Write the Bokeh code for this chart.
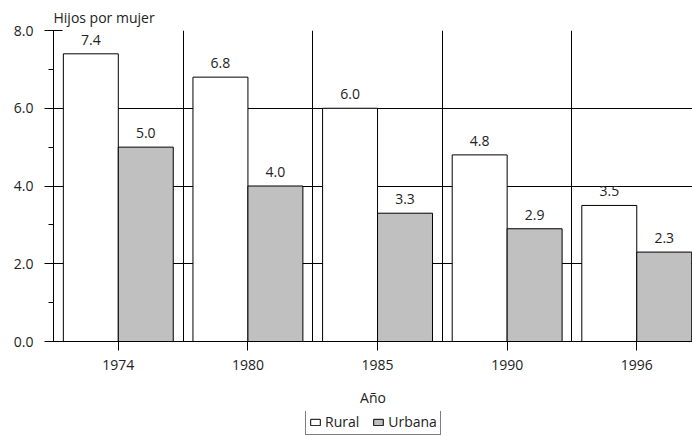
from bokeh.plotting import figure
from bokeh.layouts import column
from bokeh.models import (ColumnDataSource, Range1d, SingleIntervalTicker, FixedTicker,
                          Grid, Legend, LegendItem, NumeralTickFormatter)
from bokeh.core.properties import value
from bokeh.embed import file_html
from bokeh.resources import INLINE

years = ["1974", "1980", "1985", "1990", "1996"]
rural = [7.4, 6.8, 6.0, 4.8, 3.5]
urbana = [5.0, 4.0, 3.3, 2.9, 2.3]
rural_labels = ["7.4", "6.8", "6.0", "4.8", "3.5"]
urbana_labels = ["5.0", "4.0", "3.3", "2.9", "2.3"]
series_names = ["Rural", "Urbana"]

FONT = "Open Sans"
FS = "14px"
TXT = "#222222"
BW = 0.424
RURAL_FILL = "white"
URB_FILL = "#c0c0c0"

xs = list(range(len(years)))
src_r = ColumnDataSource(dict(x=[i - BW / 2 for i in xs], top=rural, lab=rural_labels))
src_u = ColumnDataSource(dict(x=[i + BW / 2 for i in xs], top=urbana, lab=urbana_labels))

p = figure(width=692, height=411, output_backend="svg", toolbar_location=None,
           x_range=Range1d(-0.5, 4.43), y_range=Range1d(0, 8),
           min_border_left=53, min_border_right=0, min_border_top=30, min_border_bottom=70)
p.outline_line_color = None
p.background_fill_color = "white"
p.border_fill_color = "white"

# grids
p.xgrid.visible = False
p.ygrid.ticker = FixedTicker(ticks=[2, 4, 6, 8])
p.ygrid.grid_line_color = "black"
p.ygrid.grid_line_width = 1
vgrid = Grid(dimension=0, ticker=FixedTicker(ticks=[0.5, 1.5, 2.5, 3.5]),
             grid_line_color="black", grid_line_width=1)
p.add_layout(vgrid)

p.vbar(x="x", top="top", width=BW, source=src_r, fill_color=RURAL_FILL,
       line_color="black", line_width=1)
p.vbar(x="x", top="top", width=BW, source=src_u, fill_color=URB_FILL,
       line_color="black", line_width=1)

for src in (src_r, src_u):
    p.text(x="x", y="top", text="lab", source=src, text_align="center",
           text_baseline="bottom", y_offset=-9, text_font=value(FONT),
           text_font_size=FS, text_color=TXT)

# y axis
p.yaxis.ticker = SingleIntervalTicker(interval=2, num_minor_ticks=2)
p.yaxis.formatter = NumeralTickFormatter(format="0.0")
p.yaxis.major_tick_out = 9
p.yaxis.major_tick_in = 9
p.yaxis.minor_tick_out = 5
p.yaxis.minor_tick_in = 0
p.yaxis.axis_line_color = "black"
p.yaxis.major_tick_line_color = "black"
p.yaxis.minor_tick_line_color = "black"
p.yaxis.major_label_text_font = FONT
p.yaxis.major_label_text_font_size = FS
p.yaxis.major_label_text_color = TXT
p.yaxis.major_label_standoff = 11

# x axis
p.xaxis.ticker = FixedTicker(ticks=xs)
p.xaxis.major_label_overrides = {i: y for i, y in zip(xs, years)}
p.xaxis.major_tick_out = 9
p.xaxis.major_tick_in = 0
p.xaxis.minor_tick_line_color = None
p.xaxis.axis_line_color = "black"
p.xaxis.major_tick_line_color = "black"
p.xaxis.major_label_text_font = FONT
p.xaxis.major_label_text_font_size = FS
p.xaxis.major_label_text_color = TXT
p.xaxis.major_label_standoff = 9
p.xaxis.axis_label = "Año"
p.xaxis.axis_label_text_font = FONT
p.xaxis.axis_label_text_font_size = FS
p.xaxis.axis_label_text_font_style = "normal"
p.xaxis.axis_label_text_color = TXT
p.xaxis.axis_label_standoff = 15

# y title at top-left
p.title.text = "Hijos por mujer"
p.title.text_font = FONT
p.title.text_font_size = FS
p.title.text_font_style = "normal"
p.title.text_color = TXT
p.title.offset = 0
p.title.standoff = 8

# legend strip below (its bars sit far outside the visible y range)
pl = figure(width=692, height=25, output_backend="svg", toolbar_location=None,
            x_range=Range1d(-0.5, 4.43), y_range=Range1d(100, 101),
            min_border_left=53, min_border_right=0, min_border_top=0, min_border_bottom=0)
pl.axis.visible = False
pl.grid.visible = False
pl.outline_line_color = None
pl.border_fill_color = "white"
pl.background_fill_color = "white"
lr = pl.vbar(x="x", top="top", width=BW, source=src_r, fill_color=RURAL_FILL, line_color="black")
lu = pl.vbar(x="x", top="top", width=BW, source=src_u, fill_color=URB_FILL, line_color="black")
legend = Legend(items=[LegendItem(label=series_names[0], renderers=[lr]),
                       LegendItem(label=series_names[1], renderers=[lu])],
                orientation="horizontal", location=(252, 1),
                border_line_color="black", border_line_width=1,
                background_fill_alpha=1.0,
                label_text_font=FONT, label_text_font_size=FS, label_text_color=TXT,
                glyph_width=12, glyph_height=8, label_standoff=4, spacing=13,
                padding=3, margin=0, label_height=14)
pl.add_layout(legend, "center")

layout = column(p, pl, spacing=0)
open("out.html", "w").write(file_html(layout, INLINE))
